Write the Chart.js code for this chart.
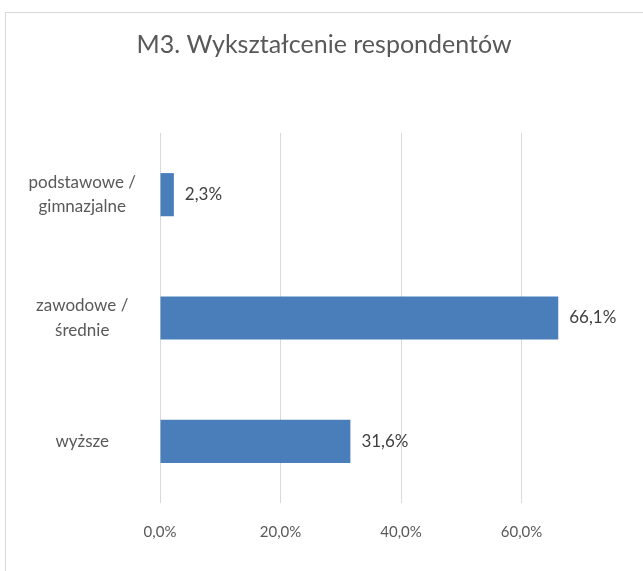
<!DOCTYPE html>
<html>
<head>
<meta charset="utf-8">
<script src="https://cdn.jsdelivr.net/npm/chart.js@4"></script>
<style>
  html, body { margin: 0; padding: 0; background: #fff; overflow: hidden; }
  #ramka { position: absolute; left: 5px; top: 12px; width: 700px; height: 600px; border-left: 1px solid #d9d9d9; border-top: 1px solid #d9d9d9; }
  #wyksztalcenieChart { position: absolute; left: 0; top: 0; }
</style>
</head>
<body>
<div id="ramka"></div>
<canvas id="wyksztalcenieChart" width="662" height="571"></canvas>
<script>
const kategorie = [["podstawowe /", "gimnazjalne"], ["zawodowe /", "średnie"], "wyższe"];
const wartosci = [2.3, 66.1, 31.6];
const tyki = [0, 20, 40, 60, 80];

function naProcent(v) {
    return v.toFixed(1).replace(".", ",") + "%";
}

// etykiety przy koncach slupkow
const etykietyPlugin = {
    id: "etykiety",
    afterDatasetsDraw(chart) {
        let ctx = chart.ctx;
        let meta = chart.getDatasetMeta(0);
        ctx.save();
        ctx.font = "17px Lato";
        ctx.fillStyle = "#404040";
        ctx.textAlign = "left";
        ctx.textBaseline = "middle";
        meta.data.forEach((bar, i) => {
            ctx.fillText(naProcent(wartosci[i]), bar.x + 11, bar.y);
        });
        ctx.restore();
    }
};

let ctx = document.getElementById("wyksztalcenieChart").getContext("2d");

new Chart(ctx, {
    type: "bar",
    data: {
        labels: kategorie,
        datasets: [{
            data: wartosci,
            backgroundColor: "#4a7ebb",
            categoryPercentage: 0.35,
            barPercentage: 1.0
        }]
    },
    options: {
        indexAxis: "y",
        responsive: false,
        animation: false,
        layout: { padding: { left: 0, right: 14, top: 0, bottom: 10 } },
        plugins: {
            legend: { display: false },
            tooltip: { enabled: false },
            title: {
                display: true,
                text: "M3. Wykształcenie respondentów",
                color: "#595959",
                font: { family: "Lato", size: 25, weight: "normal" },
                padding: { top: 30, bottom: 73 }
            }
        },
        scales: {
            x: {
                min: 0,
                max: 80,
                afterBuildTicks: (scale) => { scale.ticks = tyki.map(v => ({ value: v })); },
                grid: {
                    // linia 80% lezy poza kadrem w oryginale
                    color: (c) => c.tick && c.tick.value === 80 ? "rgba(0,0,0,0)" : "#d9d9d9",
                    drawTicks: false
                },
                border: { display: false },
                ticks: {
                    padding: 20,
                    color: "#595959",
                    font: { family: "Lato", size: 15 },
                    maxRotation: 0,
                    callback: (v) => v === 80 ? "" : naProcent(v)
                }
            },
            y: {
                afterFit: (scale) => { scale.width = 160; },
                grid: { display: false },
                border: { display: false },
                ticks: {
                    padding: 16,
                    crossAlign: "center",
                    color: "#595959",
                    font: { family: "Lato", size: 17, lineHeight: 1.45 }
                }
            }
        }
    },
    plugins: [etykietyPlugin]
});
</script>
</body>
</html>
